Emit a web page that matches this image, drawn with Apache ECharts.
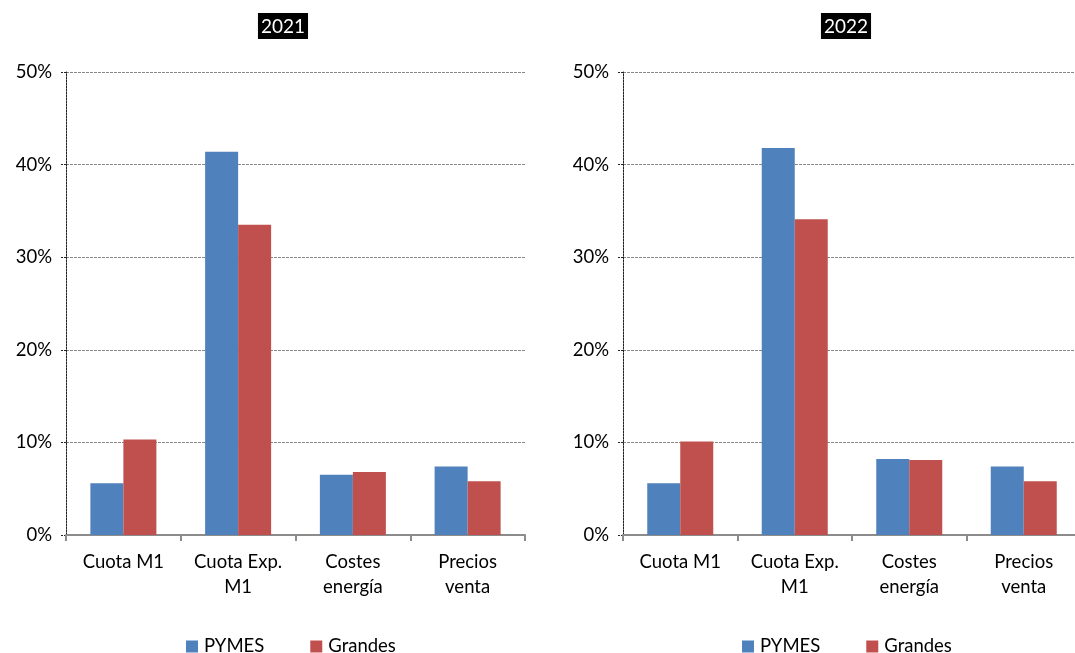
<!DOCTYPE html>
<html>
<head>
<meta charset="utf-8">
<script src="https://cdn.jsdelivr.net/npm/echarts@6/dist/echarts.min.js"></script>
<style>
  html, body { margin: 0; padding: 0; background: #fff; }
  #main { width: 1075px; height: 653px; }
</style>
</head>
<body>
<div id="main"></div>
<script>
// categories + values (percent)
const categories = ['Cuota M1', 'Cuota Exp.\nM1', 'Costes\nenergía', 'Precios\nventa'];
const years = ['2021', '2022'];
const pymes2021 = [5.6, 41.4, 6.5, 7.4];
const grandes2021 = [10.3, 33.5, 6.8, 5.8];
const pymes2022 = [5.6, 41.8, 8.2, 7.4];
const grandes2022 = [10.1, 34.1, 8.1, 5.8];
const yTicks = [0, 10, 20, 30, 40, 50];

const FONT = 'Lato';
const FS = 18.5;
const chart = echarts.init(document.getElementById('main'));

function xAxisFor(idx) {
  return {
    type: 'category',
    gridIndex: idx,
    data: categories,
    axisLine: { lineStyle: { color: '#8c8c8c', width: 2 } },
    axisTick: { show: true, length: 6, lineStyle: { color: '#8c8c8c', width: 2 } },
    axisLabel: { interval: 0, color: '#000', fontSize: FS, fontFamily: FONT, lineHeight: 25, margin: 15 }
  };
}

function yAxisFor(idx) {
  return {
    type: 'value',
    gridIndex: idx,
    min: yTicks[0],
    max: yTicks[yTicks.length - 1],
    interval: 10,
    axisLine: { show: true, lineStyle: { color: '#222', type: [2, 1], width: 1 } },
    axisTick: { show: true, length: 6, lineStyle: { color: '#222', type: [2, 1] } },
    axisLabel: { color: '#000', fontSize: FS, fontFamily: FONT, margin: 14, formatter: '{value}%' },
    splitLine: { show: true, lineStyle: { color: '#888', type: [3, 1], width: 1 } }
  };
}

function titleFor(idx, x) {
  return {
    text: years[idx],
    left: x,
    top: 13,
    textAlign: 'center',
    backgroundColor: '#000',
    padding: [4, 3, 3, 3],
    textStyle: { color: '#fff', fontSize: 19, fontWeight: 'normal', fontFamily: FONT }
  };
}

function legendFor(x) {
  return {
    data: ['PYMES', 'Grandes'],
    left: x,
    top: 632,
    icon: 'rect',
    itemWidth: 12,
    itemHeight: 12,
    itemGap: 46,
    selectedMode: false,
    textStyle: { color: '#000', fontSize: FS, fontFamily: FONT, padding: [0, 0, 0, 1] }
  };
}

function barSeries(name, idx, data, color) {
  return {
    name: name,
    type: 'bar',
    xAxisIndex: idx,
    yAxisIndex: idx,
    data: data,
    barWidth: 33,
    barGap: '0%',
    itemStyle: { color: color },
    emphasis: { disabled: true }
  };
}

const option = {
  animation: false,
  title: [titleFor(0, 280), titleFor(1, 843)],
  legend: [legendFor(181), legendFor(737)],
  grid: [
    { left: 66, width: 459, top: 72, bottom: 118, outerBoundsMode: 'none' },
    { left: 623, width: 458, top: 72, bottom: 118, outerBoundsMode: 'none' }
  ],
  xAxis: [xAxisFor(0), xAxisFor(1)],
  yAxis: [yAxisFor(0), yAxisFor(1)],
  series: [
    barSeries('PYMES', 0, pymes2021, '#4F81BD'),
    barSeries('Grandes', 0, grandes2021, '#C0504D'),
    barSeries('PYMES', 1, pymes2022, '#4F81BD'),
    barSeries('Grandes', 1, grandes2022, '#C0504D')
  ]
};

chart.setOption(option);
</script>
</body>
</html>
